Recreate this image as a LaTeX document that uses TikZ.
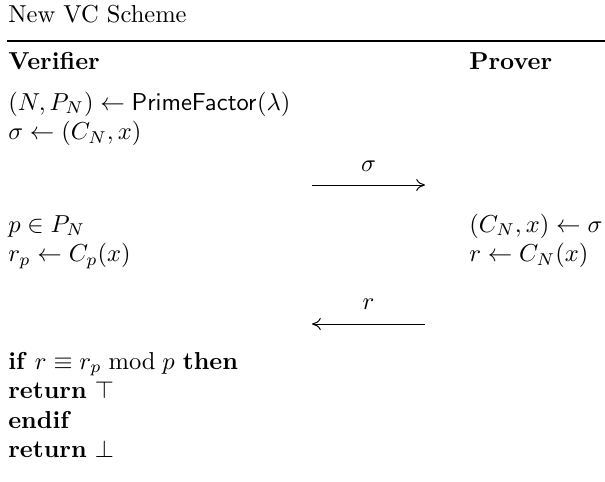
\documentclass[tikz,border=0pt]{standalone}
\usepackage{amsmath,amssymb}
\usetikzlibrary{arrows.meta}
\begin{document}
\begin{tikzpicture}[x=0.408pt,y=-0.408pt,
  txt/.style={anchor=base west,inner sep=0pt,outer sep=0pt},
  lbl/.style={anchor=base,inner sep=0pt,outer sep=0pt},
  msg/.style={line width=0.4pt,-{To[length=3.6pt,width=5pt]}}]
\useasboundingbox (0,0) rectangle (605,481);
\node[txt] (title) at (8.3,22.5) {New VC Scheme};
\coordinate (rl) at (7,41);
\coordinate (rr) at (605,41);
\draw[line width=0.5pt] (rl) -- (rr);
\node[txt] (ver) at (8.3,69) {\textbf{Verifier}};
\node[txt] (prv) at (469.3,69) {\textbf{Prover}};
\node[txt] (v1) at (8.3,110) {$(N, P_N) \leftarrow \mathsf{PrimeFactor}(\lambda)$};
\node[txt] (v2) at (8.3,139.5) {$\sigma \leftarrow (C_N, x)$};
\coordinate (s1) at (312,185);
\coordinate (s2) at (425,185);
\draw[msg] (s1) -- (s2);
\node[lbl] (sl) at (368.5,171) {$\sigma$};
\node[txt] (v3) at (8.3,232) {$p \in P_N$};
\node[txt] (v4) at (8.3,261.5) {$r_p \leftarrow C_p(x)$};
\node[txt] (p1) at (469.3,232) {$(C_N, x) \leftarrow \sigma$};
\node[txt] (p2) at (469.3,261.5) {$r \leftarrow C_N(x)$};
\coordinate (r1) at (425,324);
\coordinate (r2) at (312,324);
\draw[msg] (r1) -- (r2);
\node[lbl] (rl2) at (368.5,309) {$r$};
\node[txt] (v5) at (8.3,369.2) {\textbf{if} $r \equiv r_p \bmod p$ \textbf{then}};
\node[txt] (v6) at (8.3,398.6) {\textbf{return} $\top$};
\node[txt] (v7) at (8.3,428) {\textbf{endif}};
\node[txt] (v8) at (8.3,457.5) {\textbf{return} $\bot$};
\end{tikzpicture}
\end{document}
